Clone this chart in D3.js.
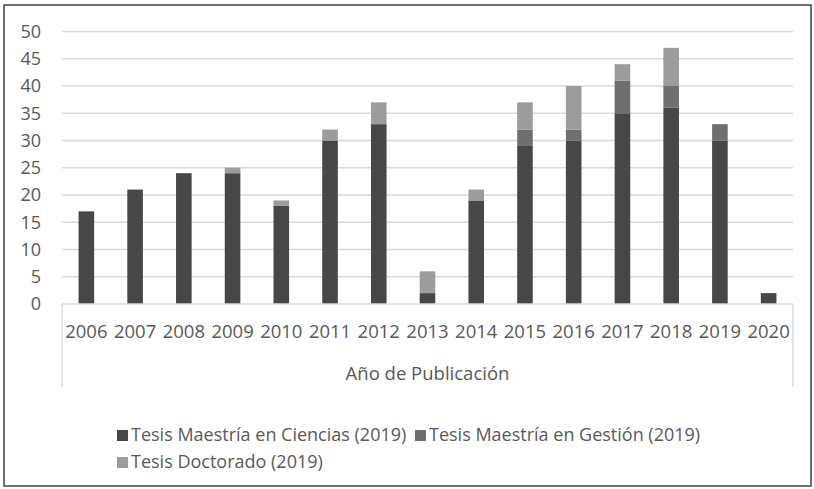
<!DOCTYPE html>
<html>
<head>
<meta charset="utf-8">
<script src="https://cdn.jsdelivr.net/npm/d3@7"></script>
<style>
  body { margin: 0; background: #fff; }
  svg { display: block; font-family: "Open Sans", sans-serif; }
</style>
</head>
<body>
<svg id="chart" width="814" height="489"></svg>
<script>
const years = ["2006","2007","2008","2009","2010","2011","2012","2013","2014","2015","2016","2017","2018","2019","2020"];
const ciencias  = [17, 21, 24, 24, 18, 30, 33, 2, 19, 29, 30, 35, 36, 30, 2];
const gestion   = [0, 0, 0, 0, 0, 0, 0, 0, 0, 3, 2, 6, 4, 3, 0];
const doctorado = [0, 0, 0, 1, 1, 2, 4, 4, 2, 5, 8, 3, 7, 0, 0];
const seriesNames = ["Tesis Maestría en Ciencias (2019)", "Tesis Maestría en Gestión (2019)", "Tesis Doctorado (2019)"];
const yTicks = [0, 5, 10, 15, 20, 25, 30, 35, 40, 45, 50];
const colors = ["#474748", "#6f6f70", "#9c9c9d"];

const svg = d3.select('#chart');

// outer frame
svg.append('rect')
  .attr('x', 4).attr('y', 5).attr('width', 807).attr('height', 481)
  .attr('fill', 'none').attr('stroke', '#404040').attr('stroke-width', 1.5);

const plotLeft = 62, plotRight = 793, plotTop = 31.5, plotBottom = 304;

const x = d3.scaleBand().domain(years).range([plotLeft, plotRight]).paddingInner(0.68).paddingOuter(0.34);
const y = d3.scaleLinear().domain([0, 50]).range([plotBottom, plotTop]);

const table = years.map((yr, i) => ({year: yr, c: ciencias[i], g: gestion[i], d: doctorado[i]}));
const stack = d3.stack().keys(['c', 'g', 'd'])(table);

// gridlines
svg.append('g')
  .selectAll('line')
  .data(yTicks.filter(t => t > 0))
  .enter()
  .append('line')
  .attr('x1', plotLeft).attr('x2', plotRight)
  .attr('y1', d => y(d)).attr('y2', d => y(d))
  .attr('stroke', '#d9d9d9').attr('stroke-width', 1.3);

// y labels
svg.append('g')
  .selectAll('text')
  .data(yTicks)
  .enter()
  .append('text')
  .attr('x', 41).attr('y', d => y(d))
  .attr('dy', '0.35em')
  .attr('text-anchor', 'end')
  .attr('font-size', 18)
  .attr('fill', '#595959')
  .text(d => d);

// bars
svg.append('g')
  .selectAll('g')
  .data(stack)
  .enter()
  .append('g')
  .attr('fill', (d, i) => colors[i])
  .selectAll('rect')
  .data(d => d.filter(p => p[1] > p[0]))
  .enter()
  .append('rect')
  .attr('x', d => x(d.data.year))
  .attr('width', x.bandwidth())
  .attr('y', d => y(d[1]))
  .attr('height', d => y(d[0]) - y(d[1]));

// category axis box
const axisG = svg.append('g').attr('stroke', '#d9d9d9').attr('stroke-width', 1.3);
axisG.append('line').attr('x1', plotLeft).attr('x2', plotRight).attr('y1', plotBottom).attr('y2', plotBottom);
axisG.append('line').attr('x1', plotLeft).attr('x2', plotLeft).attr('y1', plotBottom).attr('y2', 387);
axisG.append('line').attr('x1', plotRight).attr('x2', plotRight).attr('y1', plotBottom).attr('y2', 387);

svg.append('g')
  .selectAll('text')
  .data(years)
  .enter()
  .append('text')
  .attr('x', d => x(d) + x.bandwidth() / 2)
  .attr('y', 338)
  .attr('text-anchor', 'middle')
  .attr('font-size', 18.5)
  .attr('fill', '#595959')
  .text(d => d);

svg.append('text')
  .attr('x', (plotLeft + plotRight) / 2).attr('y', 380)
  .attr('text-anchor', 'middle')
  .attr('font-size', 18.5)
  .attr('fill', '#595959')
  .text('Año de Publicación');

// legend
const legendPos = [[117, 435], [415, 435], [117, 462]];
const leg = svg.append('g')
  .selectAll('g')
  .data(seriesNames)
  .enter()
  .append('g')
  .attr('transform', (d, i) => `translate(${legendPos[i][0]},${legendPos[i][1]})`);
leg.append('rect')
  .attr('x', 0).attr('y', -5).attr('width', 11).attr('height', 11)
  .attr('fill', (d, i) => colors[i]);
leg.append('text')
  .attr('x', 14).attr('y', 0).attr('dy', '0.35em')
  .attr('font-size', 18)
  .attr('fill', '#595959')
  .text(d => d);
</script>
</body>
</html>
